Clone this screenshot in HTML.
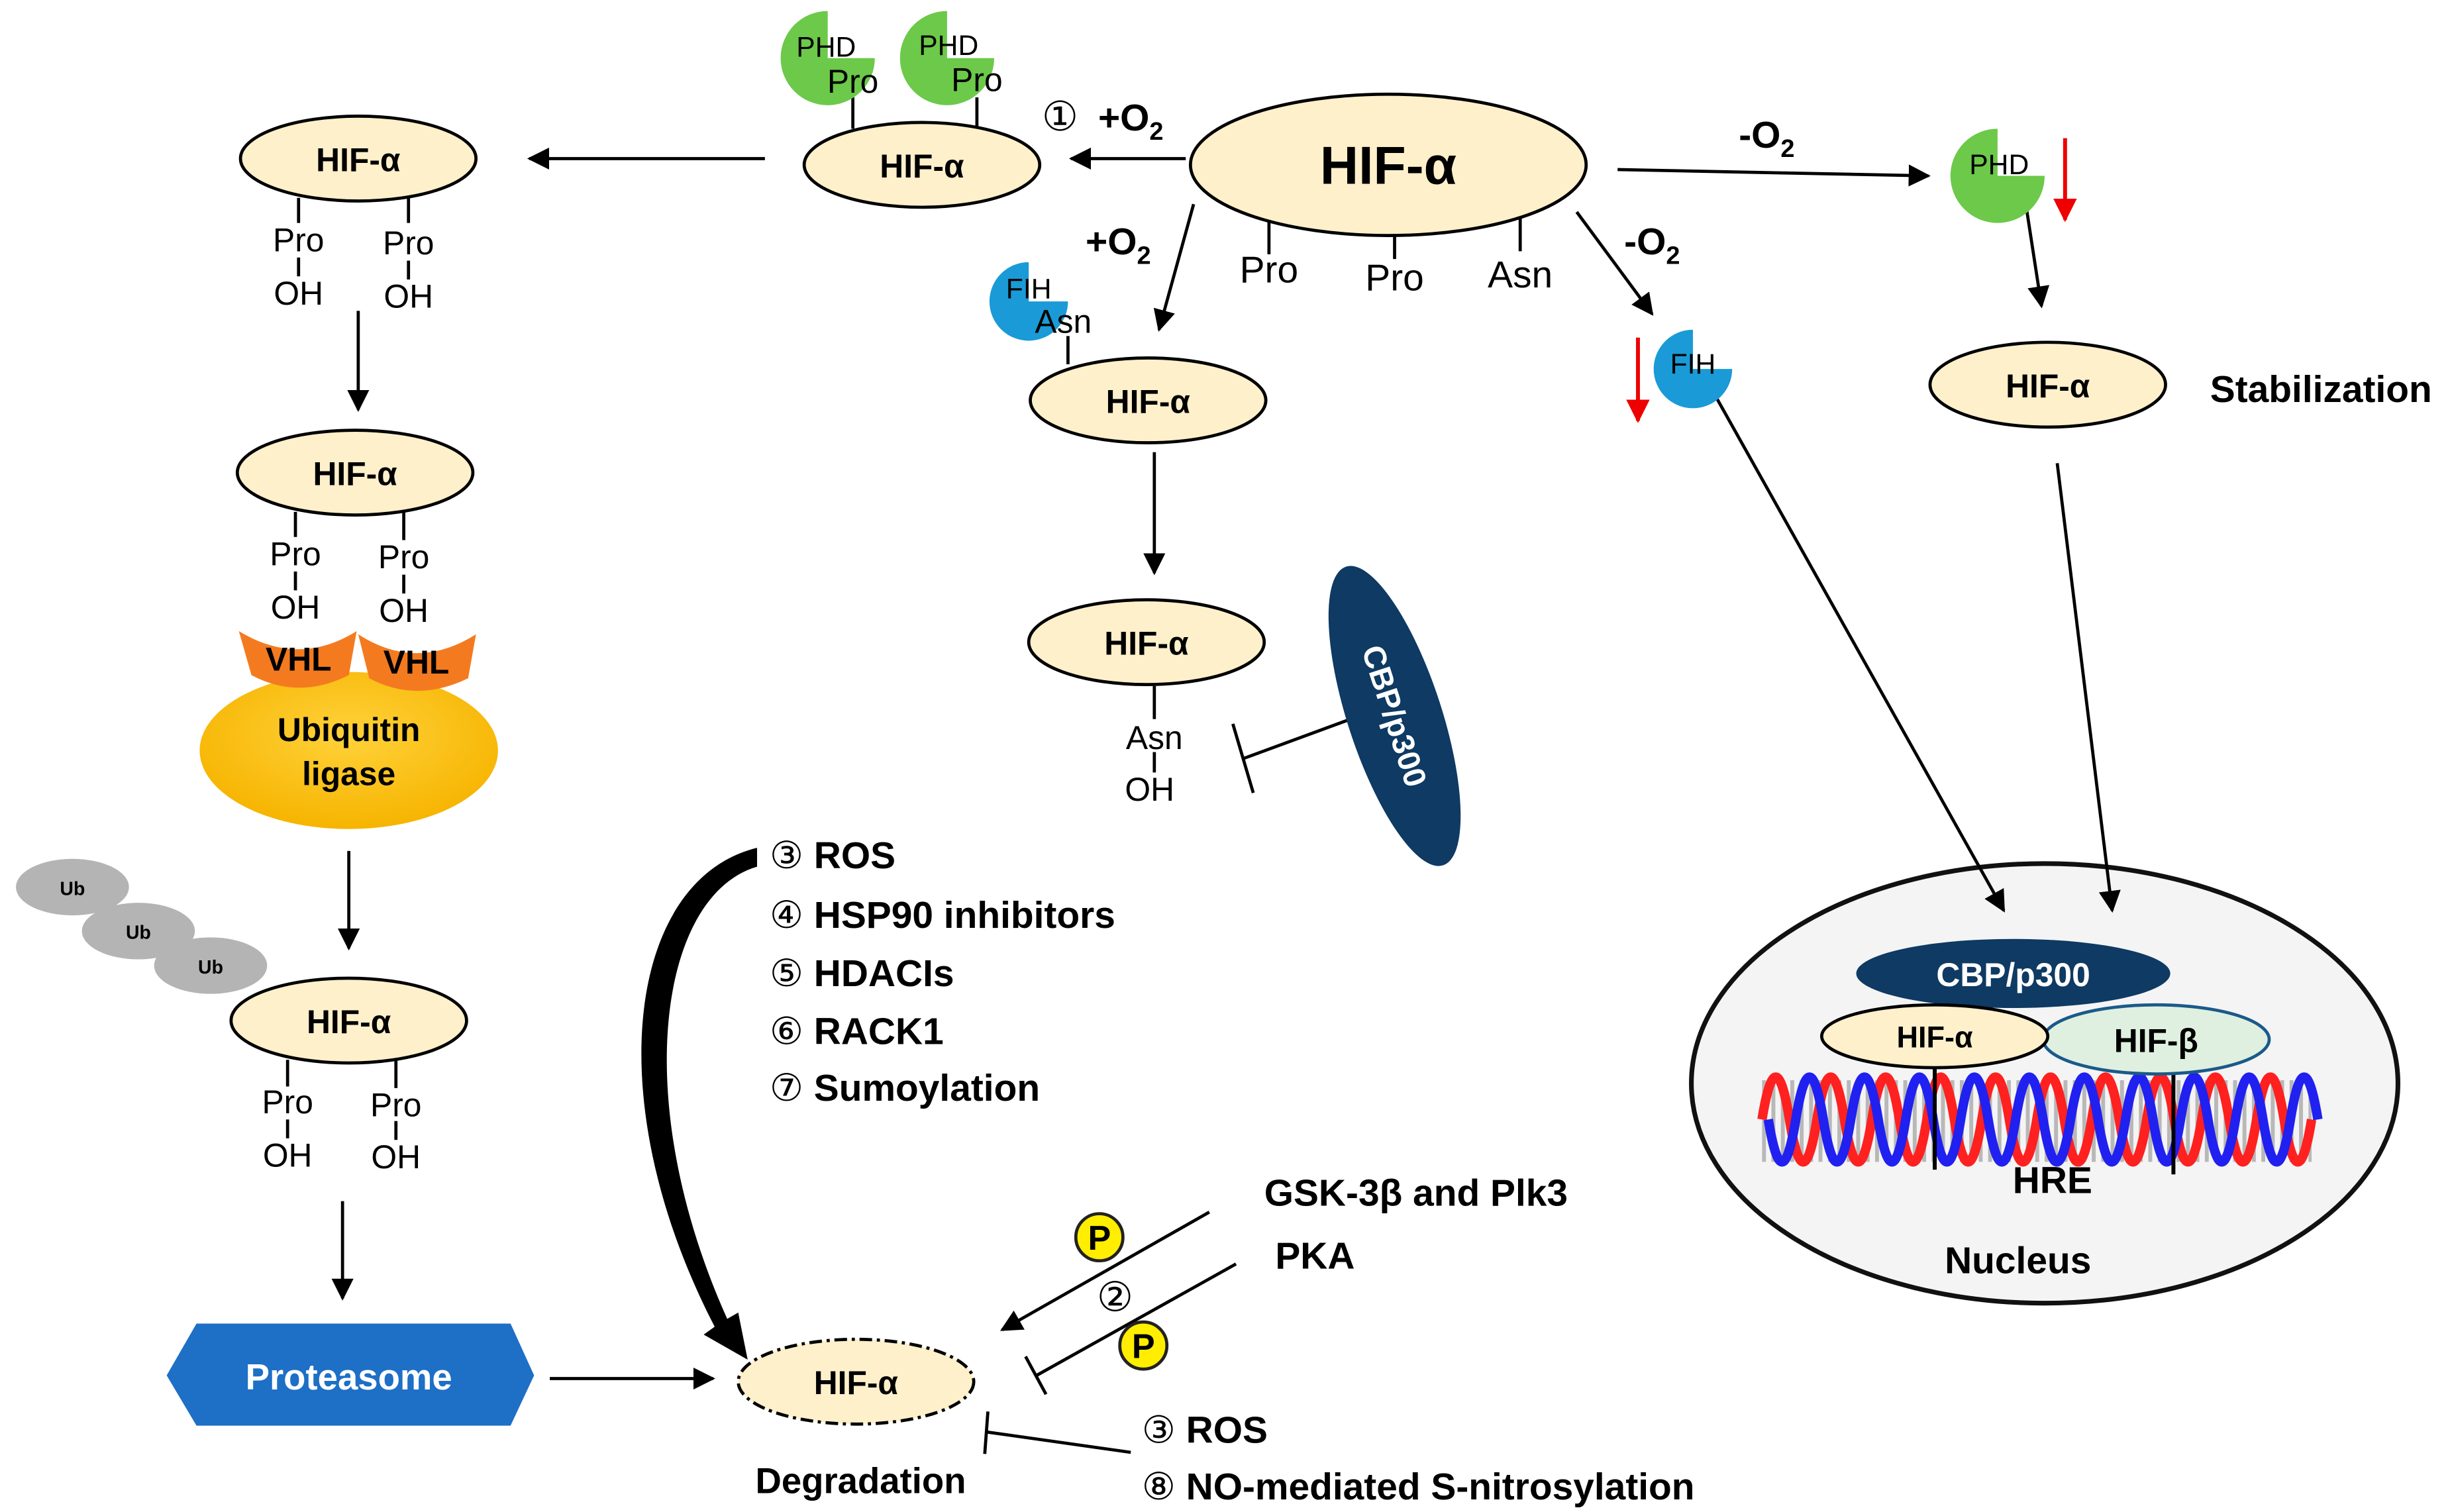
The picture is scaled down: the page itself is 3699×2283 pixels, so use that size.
<!DOCTYPE html>
<html><head><meta charset="utf-8"><style>html,body{margin:0;padding:0;background:#fff}svg{display:block}</style></head>
<body>
<svg xmlns="http://www.w3.org/2000/svg" width="3699" height="2283" viewBox="0 0 1560 963" font-family="Liberation Sans, DejaVu Sans, sans-serif">
<defs>
<marker id="ah" viewBox="0 0 10 10" refX="9" refY="5" markerWidth="7" markerHeight="7" orient="auto-start-reverse"><path d="M0,0 L10,5 L0,10 z" fill="#000"/></marker>
<marker id="ahr" viewBox="0 0 10 10" refX="9" refY="5" markerWidth="6" markerHeight="6" orient="auto"><path d="M0,0 L10,5 L0,10 z" fill="#e00"/></marker>
<radialGradient id="ub" cx="0.5" cy="0.4" r="0.6"><stop offset="0" stop-color="#ffd23a"/><stop offset="1" stop-color="#f6b400"/></radialGradient>
<pattern id="rung" width="6" height="10" patternUnits="userSpaceOnUse"><rect width="6" height="10" fill="#f4f4f4"/><rect x="0" width="2.5" height="10" fill="#b8b8b8"/></pattern>
</defs>
<!-- Nucleus (behind arrows) -->
<ellipse cx="1302" cy="690" rx="225" ry="140" fill="#f4f4f4" stroke="#111" stroke-width="3"/>
<g fill="none" stroke="#000" stroke-width="2">
<line x1="808" y1="140" x2="808" y2="162"/><line x1="888" y1="145" x2="888" y2="165"/><line x1="968" y1="138" x2="968" y2="160"/>
<ellipse cx="884" cy="105" rx="126" ry="45" fill="#fdf0cb"/>
<line x1="543" y1="62" x2="543" y2="82"/><line x1="622" y1="62" x2="622" y2="82"/>
<ellipse cx="587" cy="105" rx="75" ry="27" fill="#fdf0cb"/>
<line x1="755" y1="101" x2="682" y2="101" marker-end="url(#ah)"/>
<line x1="487" y1="101" x2="337" y2="101" marker-end="url(#ah)"/>
<ellipse cx="228" cy="101" rx="75" ry="27" fill="#fdf0cb"/>
<line x1="190" y1="126" x2="190" y2="142"/><line x1="260" y1="126" x2="260" y2="142"/>
<line x1="190" y1="164" x2="190" y2="176"/><line x1="260" y1="166" x2="260" y2="178"/>
<line x1="228" y1="198" x2="228" y2="261" marker-end="url(#ah)"/>
<ellipse cx="226" cy="301" rx="75" ry="27" fill="#fdf0cb"/>
<line x1="188" y1="326" x2="188" y2="342"/><line x1="257" y1="326" x2="257" y2="344"/>
<line x1="188" y1="364" x2="188" y2="376"/><line x1="257" y1="366" x2="257" y2="378"/>
<line x1="222" y1="542" x2="222" y2="604" marker-end="url(#ah)"/>
<ellipse cx="222" cy="650" rx="75" ry="27" fill="#fdf0cb"/>
<line x1="183" y1="675" x2="183" y2="692"/><line x1="252" y1="675" x2="252" y2="693"/>
<line x1="183" y1="713" x2="183" y2="725"/><line x1="252" y1="714" x2="252" y2="726"/>
<line x1="218" y1="765" x2="218" y2="827" marker-end="url(#ah)"/>
<line x1="350" y1="878" x2="454" y2="878" marker-end="url(#ah)"/>
<ellipse cx="545" cy="880" rx="75" ry="27" fill="#fdf0cb" stroke-dasharray="8,3,2,3"/>
<line x1="760" y1="130" x2="738" y2="210" marker-end="url(#ah)"/>
<line x1="680" y1="214" x2="680" y2="232"/>
<ellipse cx="731" cy="255" rx="75" ry="27" fill="#fdf0cb"/>
<line x1="735" y1="288" x2="735" y2="365" marker-end="url(#ah)"/>
<ellipse cx="730" cy="409" rx="75" ry="27" fill="#fdf0cb"/>
<line x1="735" y1="437" x2="735" y2="458"/><line x1="735" y1="479" x2="735" y2="492"/>
<line x1="860" y1="458" x2="792" y2="483"/><line x1="798" y1="505" x2="785" y2="461"/>
<line x1="1030" y1="108" x2="1228" y2="112" marker-end="url(#ah)"/>
<line x1="1290" y1="130" x2="1300" y2="195" marker-end="url(#ah)"/>
<ellipse cx="1304" cy="245" rx="75" ry="27" fill="#fdf0cb"/>
<line x1="1004" y1="135" x2="1052" y2="200" marker-end="url(#ah)"/>
<line x1="1090" y1="248" x2="1276" y2="580" marker-end="url(#ah)"/>
<line x1="1310" y1="295" x2="1345" y2="580" marker-end="url(#ah)"/>
<line x1="770" y1="772" x2="638" y2="847" marker-end="url(#ah)"/>
<line x1="787" y1="805" x2="660" y2="876"/><line x1="653" y1="864" x2="666" y2="888"/>
<line x1="720" y1="925" x2="628" y2="912"/><line x1="629" y1="899" x2="627" y2="926"/>
</g>
<line x1="1315" y1="88" x2="1315" y2="140" stroke="#e00" stroke-width="2.5" marker-end="url(#ahr)"/>
<line x1="1043" y1="215" x2="1043" y2="268" stroke="#e00" stroke-width="2.5" marker-end="url(#ahr)"/>
<path d="M482,540 C400,560 380,700 455,845 L448,850 L476,866 L470,836 L463,840 C400,700 420,570 482,552 Z" fill="#000"/>
<path d="M527,37 m0,-30 a30,30 0 1,0 30,30 l-30,0 z" fill="#6cc94a"/>
<path d="M603,37 m0,-30 a30,30 0 1,0 30,30 l-30,0 z" fill="#6cc94a"/>
<path d="M1272,112 m0,-30 a30,30 0 1,0 30,30 l-30,0 z" fill="#6cc94a"/>
<path d="M655,192 m0,-25 a25,25 0 1,0 25,25 l-25,0 z" fill="#1a9ad6"/>
<path d="M1078,235 m0,-25 a25,25 0 1,0 25,25 l-25,0 z" fill="#1a9ad6"/>
<ellipse cx="222" cy="478" rx="95" ry="50" fill="url(#ub)"/>
<path d="M152,402 Q190,425 227,402 L222,430 Q190,446 160,430 Z" fill="#f47a20"/>
<path d="M228,404 Q265,428 303,404 L298,432 Q265,448 235,432 Z" fill="#f47a20"/>
<ellipse cx="46" cy="565" rx="36" ry="18" fill="#b4b4b4"/>
<ellipse cx="88" cy="593" rx="36" ry="18" fill="#b4b4b4"/>
<ellipse cx="134" cy="615" rx="36" ry="18" fill="#b4b4b4"/>
<polygon points="106,876 125,843 325,843 340,876 325,908 125,908" fill="#1e6fc6"/>
<ellipse cx="888" cy="456" rx="100" ry="30" transform="rotate(72 888 456)" fill="#0e3a63"/>
<rect x="1122" y="688" width="350" height="52" fill="url(#rung)"/>
<path d="M1122,713 q8.75,-54 17.5,0 t17.5,0 t17.5,0 t17.5,0 t17.5,0 t17.5,0 t17.5,0 t17.5,0 t17.5,0 t17.5,0 t17.5,0 t17.5,0 t17.5,0 t17.5,0 t17.5,0 t17.5,0 t17.5,0 t17.5,0 t17.5,0 t17.5,0" fill="none" stroke="#ff2020" stroke-width="6"/>
<path d="M1126,713 q8.75,54 17.5,0 t17.5,0 t17.5,0 t17.5,0 t17.5,0 t17.5,0 t17.5,0 t17.5,0 t17.5,0 t17.5,0 t17.5,0 t17.5,0 t17.5,0 t17.5,0 t17.5,0 t17.5,0 t17.5,0 t17.5,0 t17.5,0 t17.5,0" fill="none" stroke="#2020f0" stroke-width="6"/>
<line x1="1232" y1="680" x2="1232" y2="745" stroke="#000" stroke-width="2.5"/>
<line x1="1384" y1="682" x2="1384" y2="748" stroke="#000" stroke-width="2.5"/>
<ellipse cx="1282" cy="620" rx="100" ry="22" fill="#0e3a63"/>
<ellipse cx="1373" cy="662" rx="72" ry="22" fill="#dff0e0" stroke="#1a5a8a" stroke-width="2"/>
<ellipse cx="1232" cy="660" rx="72" ry="20" fill="#fdf0cb" stroke="#000" stroke-width="2"/>
<circle cx="700" cy="788" r="15" fill="#ffee00" stroke="#222" stroke-width="2"/>
<circle cx="728" cy="857" r="15" fill="#ffee00" stroke="#222" stroke-width="2"/>
<g font-size="21" text-anchor="middle" fill="#000">
<text x="884" y="117" font-size="34" font-weight="bold">HIF-α</text>
<text x="808" y="180" font-size="24">Pro</text><text x="888" y="185" font-size="24">Pro</text><text x="968" y="183" font-size="24">Asn</text>
<text x="587" y="113" font-weight="bold">HIF-α</text>
<text x="526" y="36" font-size="18">PHD</text><text x="604" y="35" font-size="18">PHD</text>
<text x="543" y="59">Pro</text><text x="622" y="58">Pro</text>
<text x="675" y="83" font-size="26">①</text>
<text x="720" y="83" font-size="24" font-weight="bold">+O<tspan font-size="16" dy="6">2</tspan></text>
<text x="228" y="109" font-weight="bold">HIF-α</text>
<text x="190" y="160">Pro</text><text x="190" y="194">OH</text><text x="260" y="162">Pro</text><text x="260" y="196">OH</text>
<text x="226" y="309" font-weight="bold">HIF-α</text>
<text x="188" y="360">Pro</text><text x="188" y="394">OH</text><text x="257" y="362">Pro</text><text x="257" y="396">OH</text>
<text x="190" y="427" font-weight="bold">VHL</text><text x="265" y="429" font-weight="bold">VHL</text>
<text x="222" y="472" font-weight="bold">Ubiquitin</text><text x="222" y="500" font-weight="bold">ligase</text>
<text x="46" y="570" font-size="12" font-weight="bold">Ub</text><text x="88" y="598" font-size="12" font-weight="bold">Ub</text><text x="134" y="620" font-size="12" font-weight="bold">Ub</text>
<text x="222" y="658" font-weight="bold">HIF-α</text>
<text x="183" y="709">Pro</text><text x="183" y="743">OH</text><text x="252" y="711">Pro</text><text x="252" y="744">OH</text>
<text x="222" y="885" font-size="23" font-weight="bold" fill="#fff">Proteasome</text>
<text x="545" y="888" font-weight="bold">HIF-α</text>
<text x="548" y="951" font-size="23" font-weight="bold">Degradation</text>
<text x="712" y="162" font-size="24" font-weight="bold">+O<tspan font-size="16" dy="6">2</tspan></text>
<text x="655" y="190" font-size="18">FIH</text><text x="677" y="212">Asn</text>
<text x="731" y="263" font-weight="bold">HIF-α</text>
<text x="730" y="417" font-weight="bold">HIF-α</text>
<text x="735" y="477">Asn</text><text x="732" y="510">OH</text>
<text x="888" y="463" font-size="20" font-weight="bold" fill="#fff" transform="rotate(72 888 456)">CBP/p300</text>
<text x="1125" y="94" font-size="24" font-weight="bold">-O<tspan font-size="16" dy="6">2</tspan></text>
<text x="1273" y="111" font-size="18">PHD</text>
<text x="1304" y="253" font-weight="bold">HIF-α</text>
<text x="1478" y="256" font-size="24" font-weight="bold">Stabilization</text>
<text x="1052" y="162" font-size="24" font-weight="bold">-O<tspan font-size="16" dy="6">2</tspan></text>
<text x="1078" y="238" font-size="18">FIH</text>
<text x="1282" y="628" font-weight="bold" fill="#fff">CBP/p300</text>
<text x="1232" y="667" font-size="19" font-weight="bold">HIF-α</text>
<text x="1373" y="670" font-weight="bold">HIF-β</text>
<text x="1307" y="760" font-size="24" font-weight="bold">HRE</text>
<text x="1285" y="811" font-size="24" font-weight="bold">Nucleus</text>
<text x="700" y="796" font-size="22" font-weight="bold">P</text>
<text x="728" y="865" font-size="22" font-weight="bold">P</text>
<text x="710" y="835" font-size="26">②</text>
</g>
<g font-size="24" font-weight="bold" fill="#000">
<text x="490" y="553"><tspan font-weight="normal">③</tspan> ROS</text>
<text x="490" y="591"><tspan font-weight="normal">④</tspan> HSP90 inhibitors</text>
<text x="490" y="628"><tspan font-weight="normal">⑤</tspan> HDACIs</text>
<text x="490" y="665"><tspan font-weight="normal">⑥</tspan> RACK1</text>
<text x="490" y="701"><tspan font-weight="normal">⑦</tspan> Sumoylation</text>
<text x="805" y="768">GSK-3β and Plk3</text>
<text x="812" y="808">PKA</text>
<text x="727" y="919"><tspan font-weight="normal">③</tspan> ROS</text>
<text x="727" y="955"><tspan font-weight="normal">⑧</tspan> NO-mediated S-nitrosylation</text>
</g>
</svg>
</body></html>
